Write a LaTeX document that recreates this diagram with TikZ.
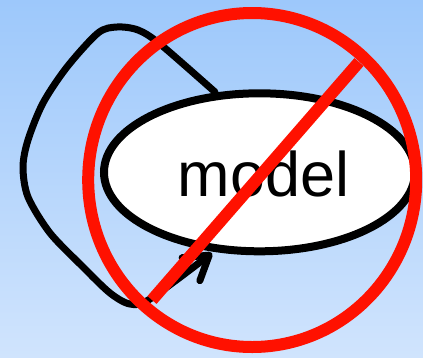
\documentclass[tikz,border=0pt]{standalone}
\usepackage{fontspec}
\setmainfont{Liberation Sans}
\usetikzlibrary{shapes.geometric,arrows.meta}
\definecolor{bgtop}{HTML}{9DC8FB}
\definecolor{bgbot}{HTML}{D0E4FD}
\definecolor{nored}{HTML}{FF1100}
\tikzset{
  modelbox/.style={draw=black, ellipse, line width=8pt, fill=white, minimum width=311pt, minimum height=158pt, inner sep=0pt, font=\fontsize{63}{72}\selectfont},
  loopline/.style={draw=black, line width=7pt, line join=round, line cap=round, -{Straight Barb[length=23pt,width=29pt,round]}},
  noline/.style={draw=nored, line width=12pt}
}
\begin{document}
\begin{tikzpicture}[x=1pt,y=-1pt]
\useasboundingbox (0,0) rectangle (423,357);
\shade[top color=bgtop, bottom color=bgbot] (0,0) rectangle (423,357);
\node[modelbox] (model) at (259.5,172.3) {\raisebox{0pt}[\dimexpr\height+4pt\relax]{\hspace*{8pt}model}};
\coordinate (loopstart) at (215,92);
\coordinate (looptip) at (212,253);
\draw[loopline] plot[smooth, tension=0.5] coordinates {(loopstart) (160,44) (138,30) (117,27) (98,33) (67,67) (43,103) (28,140) (23,167) (28,197) (50,233) (83,267) (110,293) (130,304) (150,299) (looptip)};
\draw[noline] (252.2,180) ellipse [x radius=164pt, y radius=167pt];
\draw[noline] (152,300) -- (359,62);
\end{tikzpicture}
\end{document}
